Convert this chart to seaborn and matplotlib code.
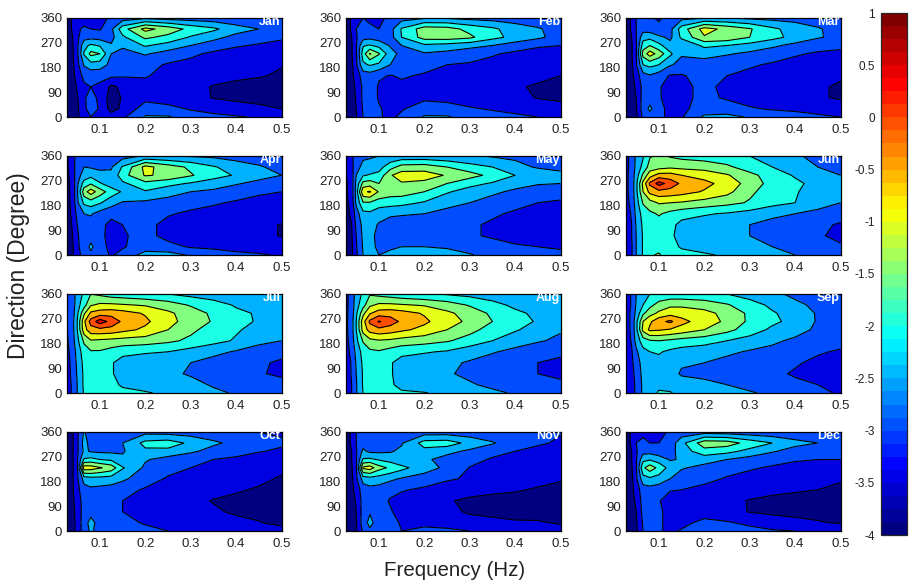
import numpy as np
import matplotlib
matplotlib.use('Agg')
import matplotlib.pyplot as plt
from matplotlib.colors import LinearSegmentedColormap
import seaborn as sns

# axes of the spectra
freq = [0.0264, 0.04, 0.05, 0.065, 0.08, 0.10, 0.125, 0.15, 0.20, 0.25, 0.30, 0.35, 0.40, 0.45, 0.50]
direc = [0, 30, 70, 110, 150, 190, 230, 260, 290, 320, 360]

months = ['Jan', 'Feb', 'Mar', 'Apr', 'May', 'Jun', 'Jul', 'Aug', 'Sep', 'Oct', 'Nov', 'Dec']

# log10 energy, one row per direction
jan = [
    [-3.9,-3.8,-3.6,-3.2,-3.0,-3.1,-3.25,-3.1,-2.45,-2.45,-2.75,-2.85,-2.95,-3.05,-3.1],
    [-3.9,-3.8,-3.6,-3.1,-2.8,-3.05,-3.7,-3.4,-2.75,-2.85,-3.05,-3.2,-3.3,-3.4,-3.5],
    [-3.9,-3.75,-3.55,-3.05,-2.85,-3.1,-3.75,-3.45,-3.15,-3.25,-3.35,-3.52,-3.6,-3.65,-3.7],
    [-3.9,-3.7,-3.45,-3.1,-3.0,-3.1,-3.6,-3.4,-3.2,-3.3,-3.4,-3.52,-3.6,-3.65,-3.7],
    [-3.85,-3.65,-3.3,-2.85,-2.85,-2.85,-2.9,-2.95,-2.95,-3.2,-3.3,-3.38,-3.42,-3.47,-3.55],
    [-3.8,-3.6,-3.15,-2.45,-2.2,-2.25,-2.65,-2.8,-2.85,-3.05,-3.15,-3.3,-3.35,-3.4,-3.48],
    [-3.8,-3.55,-3.1,-1.95,-1.35,-1.5,-2.5,-2.7,-2.45,-2.7,-2.9,-3.1,-3.2,-3.25,-3.3],
    [-3.8,-3.55,-3.1,-2.15,-1.9,-2.05,-2.45,-2.4,-1.95,-2.2,-2.5,-2.75,-2.95,-3.05,-3.1],
    [-3.75,-3.5,-3.1,-2.7,-2.65,-2.7,-2.65,-2.1,-1.4,-1.65,-2.05,-2.35,-2.65,-2.8,-2.95],
    [-3.7,-3.45,-3.05,-2.95,-3.0,-3.05,-2.6,-1.7,-0.85,-1.2,-1.65,-1.9,-2.3,-2.5,-2.75],
    [-3.7,-3.45,-3.05,-3.15,-3.3,-3.2,-2.9,-2.75,-2.6,-2.7,-2.75,-2.8,-2.85,-2.9,-2.95],
]
feb = [
    [-3.9,-3.8,-3.55,-3.0,-2.85,-2.95,-3.1,-2.9,-2.45,-2.45,-2.7,-2.8,-2.9,-3.0,-3.05],
    [-3.9,-3.8,-3.5,-2.95,-2.8,-2.95,-3.15,-3.05,-2.75,-2.8,-2.95,-3.05,-3.15,-3.25,-3.3],
    [-3.9,-3.75,-3.45,-2.9,-2.75,-3.05,-3.25,-3.2,-3.1,-3.15,-3.25,-3.3,-3.4,-3.52,-3.6],
    [-3.9,-3.7,-3.4,-2.9,-2.75,-3.05,-3.2,-3.1,-3.05,-3.2,-3.25,-3.3,-3.45,-3.55,-3.6],
    [-3.85,-3.65,-3.25,-2.8,-2.75,-2.95,-3.02,-2.95,-3.05,-3.15,-3.2,-3.25,-3.3,-3.4,-3.5],
    [-3.8,-3.6,-3.1,-2.1,-1.95,-2.1,-2.5,-2.75,-2.85,-3.0,-3.05,-3.15,-3.25,-3.3,-3.35],
    [-3.8,-3.55,-3.05,-1.75,-0.95,-1.45,-2.3,-2.65,-2.55,-2.65,-2.8,-2.95,-3.1,-3.15,-3.2],
    [-3.8,-3.55,-3.05,-2.05,-1.95,-2.15,-2.55,-2.5,-2.1,-2.2,-2.35,-2.5,-2.75,-2.95,-3.0],
    [-3.75,-3.5,-3.05,-2.7,-2.65,-2.75,-2.7,-2.0,-1.3,-1.25,-1.4,-1.85,-2.15,-2.4,-2.7],
    [-3.7,-3.45,-3.0,-2.85,-2.9,-3.0,-2.7,-1.95,-1.25,-1.3,-1.65,-1.9,-2.25,-2.45,-2.7],
    [-3.7,-3.45,-3.0,-3.0,-3.1,-3.1,-2.9,-2.7,-2.55,-2.55,-2.65,-2.7,-2.75,-2.8,-2.85],
]
mar = [
    [-3.9,-3.8,-3.6,-2.9,-2.7,-2.9,-3.1,-3.05,-2.4,-2.35,-2.55,-2.7,-2.8,-2.9,-3.0],
    [-3.9,-3.8,-3.55,-2.75,-2.4,-2.85,-3.15,-3.1,-2.8,-2.8,-2.95,-3.05,-3.1,-3.2,-3.25],
    [-3.9,-3.75,-3.5,-2.8,-2.7,-2.95,-3.2,-3.1,-2.9,-3.05,-3.2,-3.3,-3.35,-3.45,-3.55],
    [-3.9,-3.7,-3.4,-2.85,-2.75,-2.95,-3.2,-3.1,-2.9,-3.1,-3.25,-3.3,-3.35,-3.45,-3.55],
    [-3.85,-3.65,-3.25,-2.7,-2.55,-2.75,-3.05,-3.05,-2.8,-3.0,-3.1,-3.2,-3.25,-3.35,-3.45],
    [-3.8,-3.6,-3.05,-2.0,-1.85,-2.0,-2.45,-2.65,-2.75,-2.85,-2.95,-3.05,-3.15,-3.2,-3.25],
    [-3.8,-3.55,-3.05,-1.3,-0.75,-1.2,-1.9,-2.45,-2.3,-2.45,-2.6,-2.8,-2.95,-3.05,-3.1],
    [-3.8,-3.55,-3.05,-1.75,-1.5,-1.85,-2.35,-2.4,-1.9,-2.0,-2.2,-2.4,-2.65,-2.85,-2.9],
    [-3.75,-3.5,-3.0,-2.2,-2.15,-2.4,-2.6,-1.9,-1.05,-1.15,-1.5,-1.85,-2.15,-2.45,-2.65],
    [-3.7,-3.45,-3.0,-2.7,-2.75,-2.9,-2.65,-1.75,-0.8,-1.15,-1.45,-1.9,-2.2,-2.45,-2.7],
    [-3.7,-3.45,-3.0,-2.85,-2.95,-3.05,-2.85,-2.65,-2.5,-2.5,-2.6,-2.65,-2.7,-2.75,-2.8],
]
apr = [
    [-3.8,-3.55,-3.15,-2.85,-2.6,-2.8,-3.05,-2.85,-2.3,-2.3,-2.55,-2.75,-2.9,-2.95,-3.05],
    [-3.8,-3.55,-3.1,-2.75,-2.4,-2.8,-3.15,-3.05,-2.75,-2.85,-3.05,-3.1,-3.15,-3.2,-3.25],
    [-3.75,-3.5,-3.05,-2.8,-2.7,-2.85,-3.2,-3.05,-2.85,-3.15,-3.2,-3.3,-3.35,-3.4,-3.52],
    [-3.75,-3.45,-3.0,-2.75,-2.7,-2.85,-3.15,-3.0,-2.85,-3.15,-3.25,-3.3,-3.35,-3.4,-3.52],
    [-3.7,-3.4,-2.85,-2.5,-2.45,-2.7,-2.85,-2.85,-2.75,-2.95,-3.1,-3.15,-3.2,-3.25,-3.3],
    [-3.7,-3.35,-2.6,-1.9,-1.75,-1.95,-2.3,-2.55,-2.6,-2.7,-2.8,-2.95,-3.05,-3.1,-3.15],
    [-3.7,-3.3,-2.55,-1.2,-0.75,-1.25,-1.75,-2.05,-2.05,-2.3,-2.5,-2.6,-2.8,-2.95,-3.0],
    [-3.7,-3.3,-2.6,-1.8,-1.55,-1.95,-2.25,-2.1,-1.65,-1.85,-2.05,-2.25,-2.45,-2.65,-2.75],
    [-3.65,-3.25,-2.7,-2.3,-2.15,-2.35,-2.4,-1.7,-0.95,-1.1,-1.45,-1.8,-2.05,-2.3,-2.5],
    [-3.6,-3.2,-2.75,-2.5,-2.55,-2.6,-2.55,-1.95,-0.85,-1.25,-1.6,-1.95,-2.25,-2.45,-2.65],
    [-3.6,-3.2,-2.8,-2.85,-2.85,-2.9,-2.9,-2.7,-2.45,-2.5,-2.55,-2.6,-2.7,-2.75,-2.8],
]
may = [
    [-3.8,-3.6,-3.1,-2.5,-2.3,-2.5,-2.35,-2.2,-2.1,-2.15,-2.45,-2.7,-2.8,-2.85,-2.9],
    [-3.8,-3.6,-3.05,-2.45,-2.35,-2.6,-2.6,-2.5,-2.5,-2.6,-2.75,-2.85,-2.95,-3.0,-3.05],
    [-3.75,-3.55,-3.0,-2.4,-2.35,-2.65,-2.75,-2.7,-2.75,-2.85,-2.95,-3.05,-3.15,-3.2,-3.25],
    [-3.7,-3.5,-2.9,-2.35,-2.3,-2.55,-2.75,-2.75,-2.7,-2.85,-2.95,-3.05,-3.15,-3.2,-3.3],
    [-3.7,-3.4,-2.75,-2.15,-2.1,-2.3,-2.4,-2.45,-2.5,-2.7,-2.85,-2.95,-3.05,-3.1,-3.15],
    [-3.65,-3.3,-2.4,-1.55,-1.55,-1.75,-1.8,-1.85,-2.05,-2.3,-2.5,-2.7,-2.9,-3.0,-3.05],
    [-3.6,-3.25,-2.3,-0.6,-0.45,-1.05,-1.25,-1.25,-1.5,-1.95,-2.2,-2.4,-2.6,-2.8,-2.85],
    [-3.6,-3.25,-2.35,-1.35,-1.25,-1.5,-1.35,-1.05,-1.15,-1.5,-1.85,-2.05,-2.3,-2.45,-2.5],
    [-3.55,-3.2,-2.5,-2.05,-1.95,-1.85,-1.05,-0.75,-0.75,-1.05,-1.3,-1.65,-2.0,-2.2,-2.4],
    [-3.5,-3.15,-2.7,-2.35,-2.35,-2.2,-1.7,-1.3,-1.25,-1.5,-1.8,-2.0,-2.35,-2.55,-2.6],
    [-3.5,-3.1,-2.75,-2.6,-2.55,-2.5,-2.4,-2.35,-2.35,-2.4,-2.45,-2.55,-2.6,-2.7,-2.75],
]
jun = [
    [-3.4,-3.05,-2.5,-1.95,-1.55,-1.45,-1.75,-1.85,-1.95,-2.05,-2.2,-2.35,-2.5,-2.65,-2.7],
    [-3.4,-3.05,-2.5,-1.95,-1.75,-1.65,-1.85,-2.05,-2.15,-2.25,-2.35,-2.5,-2.65,-2.8,-2.95],
    [-3.35,-3.0,-2.5,-1.95,-1.75,-1.75,-1.9,-2.2,-2.3,-2.4,-2.5,-2.65,-2.8,-2.95,-3.1],
    [-3.3,-3.0,-2.45,-1.9,-1.7,-1.7,-1.85,-2.15,-2.25,-2.35,-2.5,-2.7,-2.8,-2.9,-3.05],
    [-3.25,-2.95,-2.35,-1.8,-1.6,-1.45,-1.65,-1.8,-1.95,-2.05,-2.2,-2.35,-2.5,-2.6,-2.8],
    [-3.2,-2.85,-2.25,-1.45,-1.2,-0.95,-1.0,-1.05,-1.2,-1.35,-1.55,-1.85,-2.0,-2.35,-2.5],
    [-3.15,-2.8,-2.15,-1.0,-0.35,-0.15,-0.2,-0.3,-0.55,-0.85,-1.4,-1.75,-1.95,-2.25,-2.4],
    [-3.15,-2.8,-2.15,-0.85,0.1,0.7,0.3,-0.1,-0.35,-0.7,-1.2,-1.7,-1.9,-2.15,-2.35],
    [-3.15,-2.8,-2.25,-1.4,-0.7,-0.3,-0.3,-0.5,-0.7,-0.95,-1.35,-1.75,-2.05,-2.3,-2.5],
    [-3.15,-2.85,-2.35,-1.85,-1.3,-1.2,-1.1,-1.15,-1.2,-1.4,-1.75,-2.0,-2.3,-2.5,-2.65],
    [-3.15,-2.85,-2.4,-2.05,-1.55,-1.4,-1.55,-1.65,-1.75,-1.85,-2.0,-2.25,-2.45,-2.6,-2.75],
]
jul = [
    [-3.3,-2.9,-2.5,-1.95,-1.8,-1.8,-1.85,-1.9,-1.95,-2.1,-2.2,-2.4,-2.55,-2.55,-2.5],
    [-3.3,-2.9,-2.5,-1.9,-1.85,-1.85,-1.9,-2.05,-2.2,-2.25,-2.35,-2.55,-2.7,-2.75,-2.8],
    [-3.25,-2.85,-2.45,-1.9,-1.8,-1.85,-1.95,-2.2,-2.3,-2.4,-2.55,-2.7,-2.85,-2.95,-3.1],
    [-3.2,-2.85,-2.4,-1.85,-1.75,-1.85,-1.95,-2.2,-2.25,-2.35,-2.5,-2.7,-2.8,-2.95,-3.05],
    [-3.15,-2.8,-2.3,-1.75,-1.55,-1.55,-1.7,-1.85,-1.95,-2.0,-2.2,-2.35,-2.55,-2.75,-2.9],
    [-3.1,-2.7,-2.15,-1.4,-1.05,-1.1,-1.15,-1.2,-1.25,-1.4,-1.6,-1.85,-2.05,-2.35,-2.5],
    [-3.05,-2.65,-2.0,-0.7,-0.2,-0.15,-0.2,-0.35,-0.6,-1.0,-1.4,-1.7,-1.95,-2.15,-2.3],
    [-3.05,-2.65,-2.0,-0.6,0.2,0.75,0.35,-0.1,-0.4,-0.85,-1.2,-1.55,-1.85,-2.05,-2.15],
    [-3.05,-2.7,-2.1,-1.1,-0.4,-0.25,-0.2,-0.3,-0.55,-0.9,-1.25,-1.6,-1.9,-2.05,-2.15],
    [-3.05,-2.75,-2.2,-1.7,-1.05,-0.9,-0.9,-0.95,-1.05,-1.25,-1.55,-1.8,-2.05,-2.25,-2.35],
    [-3.05,-2.75,-2.3,-1.9,-1.5,-1.6,-1.75,-1.8,-1.9,-2.0,-2.15,-2.25,-2.4,-2.45,-2.5],
]
aug = [
    [-3.4,-3.0,-2.55,-2.0,-1.85,-1.85,-1.9,-1.95,-1.98,-2.1,-2.25,-2.4,-2.55,-2.6,-2.6],
    [-3.4,-3.0,-2.55,-1.95,-1.9,-1.9,-1.95,-2.1,-2.2,-2.3,-2.45,-2.6,-2.75,-2.85,-2.9],
    [-3.35,-2.95,-2.5,-1.95,-1.85,-1.9,-1.95,-2.2,-2.35,-2.45,-2.6,-2.8,-2.9,-3.0,-3.1],
    [-3.3,-2.95,-2.45,-1.9,-1.8,-1.85,-1.95,-2.2,-2.3,-2.4,-2.55,-2.75,-2.85,-3.0,-3.1],
    [-3.25,-2.85,-2.35,-1.8,-1.6,-1.55,-1.7,-1.85,-1.95,-2.05,-2.3,-2.45,-2.65,-2.8,-2.9],
    [-3.2,-2.75,-2.15,-1.45,-1.15,-1.05,-1.1,-1.2,-1.3,-1.45,-1.7,-2.0,-2.25,-2.45,-2.6],
    [-3.15,-2.7,-2.0,-0.8,-0.3,-0.15,-0.25,-0.4,-0.65,-1.0,-1.35,-1.7,-1.95,-2.2,-2.45],
    [-3.15,-2.7,-2.0,-0.7,0.1,0.55,0.25,-0.1,-0.4,-0.8,-1.1,-1.5,-1.8,-2.05,-2.25],
    [-3.15,-2.75,-2.1,-1.15,-0.55,-0.25,-0.2,-0.3,-0.55,-0.9,-1.2,-1.6,-1.9,-2.1,-2.25],
    [-3.15,-2.8,-2.2,-1.7,-1.1,-0.9,-0.9,-0.95,-1.05,-1.25,-1.55,-1.85,-2.1,-2.3,-2.4],
    [-3.15,-2.8,-2.3,-1.9,-1.55,-1.65,-1.75,-1.85,-1.95,-2.05,-2.15,-2.25,-2.4,-2.5,-2.5],
]
sep = [
    [-3.5,-3.2,-2.9,-2.4,-2.15,-1.95,-1.95,-2.2,-2.3,-2.35,-2.45,-2.6,-2.8,-2.9,-3.05],
    [-3.5,-3.2,-2.9,-2.4,-2.2,-2.1,-2.25,-2.3,-2.4,-2.5,-2.65,-2.75,-2.9,-3.0,-3.1],
    [-3.45,-3.15,-2.85,-2.35,-2.2,-2.15,-2.35,-2.55,-2.6,-2.7,-2.8,-2.9,-3.05,-3.1,-3.2],
    [-3.4,-3.1,-2.75,-2.3,-2.15,-2.15,-2.3,-2.45,-2.5,-2.65,-2.75,-2.85,-2.95,-3.1,-3.15],
    [-3.35,-3.05,-2.6,-2.15,-2.0,-1.95,-2.1,-2.2,-2.3,-2.4,-2.55,-2.65,-2.8,-2.95,-3.05],
    [-3.3,-2.95,-2.3,-1.75,-1.55,-1.5,-1.6,-1.7,-1.8,-2.0,-2.2,-2.4,-2.6,-2.75,-2.85],
    [-3.25,-2.9,-2.15,-0.85,-0.4,-0.45,-0.55,-0.7,-1.0,-1.35,-1.75,-2.1,-2.3,-2.6,-2.7],
    [-3.25,-2.9,-2.15,-1.0,-0.6,-0.15,0.1,-0.35,-0.75,-1.1,-1.6,-1.9,-2.15,-2.55,-2.65],
    [-3.25,-2.9,-2.35,-1.6,-1.2,-0.9,-0.7,-0.7,-0.85,-1.15,-1.6,-1.95,-2.2,-2.55,-2.6],
    [-3.25,-2.95,-2.45,-2.0,-1.65,-1.3,-1.1,-1.1,-1.2,-1.45,-1.8,-2.1,-2.4,-2.6,-2.7],
    [-3.25,-2.95,-2.5,-2.2,-2.0,-1.9,-1.85,-1.85,-1.9,-2.0,-2.2,-2.4,-2.6,-2.7,-2.8],
]
oct_ = [
    [-3.9,-3.7,-3.3,-2.8,-2.4,-2.75,-2.85,-2.85,-2.85,-3.0,-3.1,-3.2,-3.25,-3.3,-3.35],
    [-3.9,-3.7,-3.3,-2.75,-2.3,-2.75,-2.75,-2.85,-3.05,-3.15,-3.25,-3.35,-3.4,-3.48,-3.6],
    [-3.85,-3.65,-3.3,-2.8,-2.7,-2.8,-2.8,-3.0,-3.2,-3.3,-3.4,-3.45,-3.55,-3.6,-3.7],
    [-3.8,-3.6,-3.25,-2.8,-2.7,-2.8,-2.8,-3.0,-3.25,-3.3,-3.4,-3.52,-3.6,-3.65,-3.7],
    [-3.75,-3.55,-3.15,-2.7,-2.6,-2.65,-2.7,-2.85,-3.05,-3.2,-3.3,-3.38,-3.45,-3.55,-3.65],
    [-3.7,-3.55,-3.1,-2.3,-2.2,-2.2,-2.25,-2.4,-2.8,-3.05,-3.15,-3.25,-3.3,-3.4,-3.55],
    [-3.65,-3.55,-3.05,-0.7,-0.75,-0.95,-1.2,-1.95,-2.6,-2.85,-3.0,-3.1,-3.2,-3.3,-3.4],
    [-3.65,-3.55,-3.05,-1.95,-1.85,-2.0,-2.1,-2.4,-2.45,-2.7,-2.9,-3.0,-3.05,-3.15,-3.2],
    [-3.6,-3.55,-3.1,-2.4,-2.55,-2.6,-2.6,-2.55,-2.1,-2.15,-2.4,-2.7,-2.9,-2.98,-3.05],
    [-3.55,-3.55,-3.1,-2.3,-2.7,-2.8,-2.8,-2.5,-1.85,-1.75,-2.1,-2.4,-2.65,-2.85,-2.95],
    [-3.55,-3.55,-3.1,-2.45,-2.75,-2.85,-2.85,-2.75,-2.65,-2.7,-2.75,-2.85,-2.95,-3.0,-3.05],
]
nov = [
    [-3.9,-3.8,-3.55,-2.9,-2.6,-2.85,-2.95,-3.0,-2.85,-2.9,-3.0,-3.1,-3.2,-3.2,-3.3],
    [-3.9,-3.8,-3.55,-2.75,-2.35,-2.75,-2.85,-3.05,-3.15,-3.2,-3.35,-3.4,-3.45,-3.45,-3.55],
    [-3.9,-3.75,-3.5,-2.8,-2.55,-2.8,-2.95,-3.2,-3.3,-3.4,-3.55,-3.6,-3.65,-3.7,-3.75],
    [-3.85,-3.7,-3.45,-2.8,-2.7,-2.8,-3.05,-3.2,-3.35,-3.45,-3.6,-3.65,-3.7,-3.75,-3.75],
    [-3.8,-3.65,-3.3,-2.75,-2.65,-2.7,-2.85,-2.95,-3.1,-3.2,-3.3,-3.4,-3.45,-3.55,-3.65],
    [-3.75,-3.6,-3.1,-2.3,-2.2,-2.25,-2.4,-2.55,-2.7,-2.95,-3.05,-3.15,-3.25,-3.35,-3.45],
    [-3.7,-3.55,-3.05,-0.9,-0.75,-1.3,-1.6,-1.85,-2.3,-2.6,-3.02,-3.15,-3.2,-3.25,-3.3],
    [-3.7,-3.5,-3.05,-1.95,-1.9,-2.05,-2.2,-2.4,-2.4,-2.7,-2.85,-3.05,-3.15,-3.2,-3.25],
    [-3.7,-3.5,-3.05,-2.4,-2.6,-2.6,-2.55,-2.4,-2.15,-2.35,-2.6,-2.85,-3.0,-3.1,-3.15],
    [-3.65,-3.45,-3.0,-2.7,-2.8,-2.85,-2.8,-2.55,-1.8,-1.75,-2.15,-2.45,-2.8,-2.95,-3.05],
    [-3.65,-3.45,-3.0,-2.85,-2.9,-2.95,-2.95,-2.85,-2.75,-2.75,-2.8,-2.85,-2.9,-2.95,-2.98],
]
dec = [
    [-3.9,-3.8,-3.6,-3.0,-2.85,-2.95,-3.1,-2.95,-2.6,-2.65,-2.85,-2.95,-3.0,-3.05,-3.1],
    [-3.9,-3.8,-3.55,-2.95,-2.75,-2.9,-3.2,-3.15,-2.85,-2.95,-3.1,-3.25,-3.35,-3.45,-3.55],
    [-3.9,-3.75,-3.5,-2.85,-2.75,-2.85,-3.3,-3.3,-3.25,-3.35,-3.52,-3.6,-3.65,-3.7,-3.75],
    [-3.85,-3.7,-3.4,-2.8,-2.75,-2.95,-3.35,-3.35,-3.3,-3.4,-3.52,-3.6,-3.65,-3.7,-3.75],
    [-3.8,-3.65,-3.25,-2.75,-2.7,-2.8,-2.95,-3.0,-3.15,-3.25,-3.35,-3.4,-3.45,-3.5,-3.6],
    [-3.75,-3.6,-3.1,-2.2,-2.1,-2.2,-2.5,-2.75,-2.85,-3.05,-3.15,-3.25,-3.3,-3.35,-3.45],
    [-3.7,-3.55,-3.05,-1.6,-1.2,-1.65,-2.2,-2.45,-2.65,-2.8,-2.95,-3.05,-3.15,-3.2,-3.3],
    [-3.7,-3.5,-3.05,-2.15,-2.05,-2.25,-2.55,-2.45,-2.3,-2.5,-2.7,-2.85,-2.95,-3.0,-3.0],
    [-3.7,-3.5,-3.05,-2.7,-2.7,-2.8,-2.7,-2.25,-1.7,-1.85,-2.15,-2.45,-2.7,-2.85,-2.95],
    [-3.65,-3.45,-3.0,-2.95,-3.0,-3.0,-2.8,-2.15,-1.2,-1.25,-1.7,-2.0,-2.35,-2.5,-2.8],
    [-3.65,-3.45,-3.0,-3.05,-3.1,-3.1,-2.95,-2.8,-2.7,-2.75,-2.8,-2.85,-2.85,-2.9,-2.95],
]
spectra = [jan, feb, mar, apr, may, jun, jul, aug, sep, oct_, nov, dec]

levels = [-4, -3.5, -3, -2.5, -2, -1.5, -1, -0.5, 0, 0.5, 1]
x_ticks = [0.1, 0.2, 0.3, 0.4, 0.5]
y_ticks = [0, 90, 180, 270, 360]
cbar_ticks = [-4, -3.5, -3, -2.5, -2, -1.5, -1, -0.5, 0, 0.5, 1]
cbar_labels = ['-4', '-3.5', '-3', '-2.5', '-2', '-1.5', '-1', '-0.5', '0', '0.5', '1']

sns.set_style('white')
plt.rcParams['font.family'] = ['Liberation Sans', 'DejaVu Sans']

W, H = 911, 583
fig = plt.figure(figsize=(W / 100, H / 100), dpi=100)

# matlab jet, it is not the same as the matplotlib one
jet_nodes = [(0, (0, 0, 0.5)), (0.125, (0, 0, 1)), (0.375, (0, 1, 1)),
             (0.625, (1, 1, 0)), (0.875, (1, 0, 0)), (1, (0.5, 0, 0))]
jet = LinearSegmentedColormap.from_list('matlab_jet', jet_nodes, N=256)
jet64 = LinearSegmentedColormap.from_list('matlab_jet64', jet_nodes, N=40)

# matlab colours a band with the colour of its lower level
band_colors = [jet((l + 4) / 5) for l in levels[:-1]]

lefts = [66.5, 345.5, 625.5]
tops = [18, 156, 294, 432]
ax_w, ax_h = 215, 99

for i, name in enumerate(months):
    row, col = i // 3, i % 3
    ax = fig.add_axes([lefts[col] / W, 1 - (tops[row] + ax_h) / H, ax_w / W, ax_h / H])
    ax.contourf(freq, direc, spectra[i], levels=levels, colors=band_colors, extend='neither')
    ax.contour(freq, direc, spectra[i], levels=levels, colors='black', linewidths=0.8,
               linestyles='solid')
    ax.set_xlim(0.0264, 0.5)
    ax.set_ylim(0, 360)
    ax.set_xticks(x_ticks)
    ax.set_xticklabels(['0.1', '0.2', '0.3', '0.4', '0.5'])
    ax.set_yticks(y_ticks)
    ax.tick_params(direction='in', length=2, width=0.7, labelsize=9.5, colors='#222222',
                   top=True, right=True, bottom=True, left=True, pad=3)
    ax.tick_params(axis='x', pad=5)
    for s in ax.spines.values():
        s.set_color('black')
        s.set_linewidth(0.9)
    ax.text(0.4985, 345, name, color='white', fontweight='bold', fontsize=9,
            ha='right', va='center')

# colourbar
cax = fig.add_axes([880.5 / W, 1 - 535 / H, 26 / W, 522 / H])
sm = plt.cm.ScalarMappable(norm=plt.Normalize(-4, 1), cmap=jet64)
cb = fig.colorbar(sm, cax=cax, ticks=cbar_ticks)
cb.ax.set_yticklabels(cbar_labels)
cb.ax.yaxis.set_ticks_position('both')
cb.ax.yaxis.set_label_position('left')
cb.ax.tick_params(direction='in', length=3, width=0.7, labelsize=8.5, colors='#222222',
                  left=True, right=True, labelleft=True, labelright=False, pad=4)
cb.outline.set_linewidth(0.9)

fig.text(455 / W, 1 - 571 / H, 'Frequency (Hz)', fontsize=14.8, ha='center', va='center', color='#222222')
fig.text(19 / W, 1 - 266 / H, 'Direction (Degree)', fontsize=16.5, rotation=90,
         ha='center', va='center', color='#222222')

fig.savefig('out.png', dpi=100)
